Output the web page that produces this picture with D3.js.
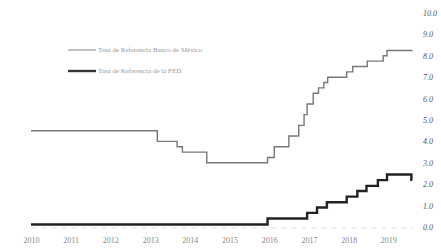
<!DOCTYPE html>
<html>
<head>
<meta charset="utf-8">
<script src="https://cdn.jsdelivr.net/npm/d3@7"></script>
<style>
  body { margin: 0; background: #fff; }
  svg { display: block; }
</style>
</head>
<body>
<div id="chart"></div>
<script>
// Tasas de referencia: Banxico vs FED (escalonadas)
const mxDates = ['2010-01-01','2013-03-08','2013-09-06','2013-10-25','2014-06-06','2015-12-17','2016-02-17','2016-06-30','2016-09-29','2016-11-17','2016-12-15','2017-02-09','2017-03-30','2017-05-18','2017-06-22','2017-12-14','2018-02-08','2018-06-21','2018-11-15','2018-12-20','2019-08-12'];
const mxRates = [4.5, 4.0, 3.75, 3.5, 3.0, 3.25, 3.75, 4.25, 4.75, 5.25, 5.75, 6.25, 6.5, 6.75, 7.0, 7.25, 7.5, 7.75, 8.0, 8.25, 8.25];

const fedDates = ['2010-01-01','2015-12-17','2016-12-15','2017-03-16','2017-06-15','2017-12-14','2018-03-22','2018-06-14','2018-09-27','2018-12-20','2019-08-01','2019-08-10'];
const fedRates = [0.12, 0.4, 0.66, 0.91, 1.16, 1.42, 1.68, 1.92, 2.19, 2.45, 2.2, 2.2];

const years = ['2010','2011','2012','2013','2014','2015','2016','2017','2018','2019'];
const yTicks = [0,1,2,3,4,5,6,7,8,9,10];

const legendLabels = ['Tasa de Referencia Banco de México', 'Tasa de Referencia de la FED'];

const W = 441, H = 249;
const parse = d3.timeParse('%Y-%m-%d');

const x = d3.scaleTime().domain([new Date(2010, 0, 1), new Date(2020, 0, 1)]).range([31, 428]);
const y = d3.scaleLinear().domain([0, 10]).range([227, 13]);

const svg = d3.select('#chart').append('svg').attr('width', W).attr('height', H);

// línea base tenue
svg.append('line')
  .attr('x1', x(new Date(2010, 0, 1))).attr('x2', x(parse('2019-08-12')))
  .attr('y1', y(0) + 1).attr('y2', y(0) + 1)
  .attr('stroke', '#e2e2e2').attr('stroke-width', 1).attr('stroke-dasharray', '6,4');

// Eje Y a la derecha
svg.append('g')
  .attr('transform', `translate(423,0)`)
  .call(d3.axisRight(y).tickValues(yTicks).tickSize(0).tickPadding(0).tickFormat(d3.format('.1f')))
  .call(g => g.select('.domain').remove())
  .call(g => g.selectAll('text').attr('fill', '#555').attr('font-size', 8)
    .attr('font-family', 'Liberation Serif').attr('font-style', 'italic'));

// Eje X
svg.append('g')
  .attr('transform', `translate(0,240)`)
  .call(d3.axisBottom(x).tickValues(years.map(v => new Date(+v, 0, 1))).tickSize(0).tickPadding(0)
    .tickFormat(d3.timeFormat('%Y')))
  .call(g => g.select('.domain').remove())
  .call(g => g.selectAll('text').attr('fill', '#888').attr('font-size', 8)
    .attr('font-family', 'Liberation Serif').attr('dy', '0.32em'));

const line = d3.line().curve(d3.curveStepAfter).x(d => x(d[0])).y(d => y(d[1]));

const mx = mxDates.map((d, i) => [parse(d), mxRates[i]]);
const fed = fedDates.map((d, i) => [parse(d), fedRates[i]]);

svg.append('path').datum(mx).attr('d', line)
  .attr('fill', 'none').attr('stroke', '#777').attr('stroke-width', 1.4);
svg.append('path').datum(fed).attr('d', line)
  .attr('fill', 'none').attr('stroke', '#222').attr('stroke-width', 2.4);

// Leyenda
const leg = [['#999', 1.2, 50], ['#333', 2.4, 71]];
leg.forEach(([col, sw, ly], i) => {
  svg.append('line').attr('x1', 68).attr('x2', 96).attr('y1', ly).attr('y2', ly)
    .attr('stroke', col).attr('stroke-width', sw);
  svg.append('text').attr('x', 98).attr('y', ly).attr('dominant-baseline', 'middle')
    .attr('fill', '#999').attr('font-size', 7).attr('font-family', 'Liberation Serif')
    .text(legendLabels[i]);
});
</script>
</body>
</html>
